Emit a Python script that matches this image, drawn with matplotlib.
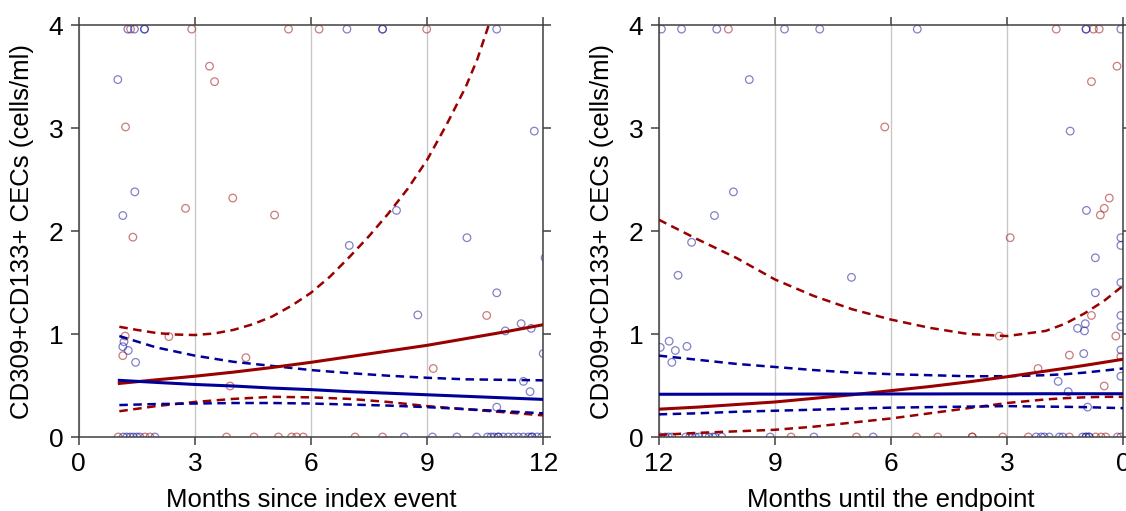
import matplotlib
matplotlib.use("Agg")
import matplotlib.pyplot as plt

plt.rcParams['font.family'] = ['Liberation Sans', 'DejaVu Sans']

# ---------------- data: left panel (months since index event) ----------------
left_red_x = [1.34, 2.92, 5.42, 6.21, 8.99,
              1.21, 3.38, 3.51, 1.40, 2.76, 3.98, 5.06, 10.54, 9.16, 1.20, 1.14, 2.33, 4.32, 3.91,
              1.02, 1.71, 1.84, 3.82, 4.53, 5.16, 5.50, 5.63, 5.80, 7.14, 7.85]
left_red_y = [3.96, 3.96, 3.96, 3.96, 3.96,
              3.01, 3.60, 3.45, 1.94, 2.22, 2.32, 2.155, 1.18, 0.665, 0.98, 0.79, 0.975, 0.77, 0.495,
              0, 0, 0, 0, 0, 0, 0, 0, 0, 0, 0]

left_blue_x = [1.27, 1.44, 1.70, 1.70, 6.93, 7.85, 7.85, 10.80,
               1.01, 1.45, 1.14, 11.77, 8.21, 6.99, 10.03, 12.05, 10.80, 8.76, 11.02, 11.43, 11.69,
               12.00, 11.49, 11.66, 10.80, 1.17, 1.14, 1.28, 1.47,
               1.15, 1.24, 1.33, 1.41, 1.50, 1.58, 1.97, 8.41, 9.14, 9.77, 10.28, 10.56, 10.65,
               10.73, 10.84, 10.84, 10.97, 11.10, 11.23, 11.36, 11.49, 11.62, 11.71, 11.71, 11.84, 11.96]
left_blue_y = [3.96, 3.96, 3.96, 3.96, 3.96, 3.96, 3.96, 3.96,
               3.47, 2.38, 2.15, 2.97, 2.20, 1.86, 1.935, 1.74, 1.40, 1.185, 1.03, 1.10, 1.055,
               0.81, 0.54, 0.44, 0.29, 0.925, 0.877, 0.84, 0.725,
               0, 0, 0, 0, 0, 0, 0, 0, 0, 0, 0, 0, 0,
               0, 0, 0, 0, 0, 0, 0, 0, 0, 0, 0, 0, 0]

fit_left_x = [1.05, 2, 3, 4, 5, 6, 7, 8, 9, 10, 11, 12]
left_red_fit = [0.52, 0.555, 0.59, 0.63, 0.675, 0.725, 0.78, 0.835, 0.89, 0.955, 1.02, 1.09]
left_red_lo = [0.25, 0.30, 0.34, 0.37, 0.39, 0.385, 0.37, 0.34, 0.30, 0.27, 0.24, 0.21]
left_blue_fit = [0.55, 0.53, 0.51, 0.495, 0.475, 0.46, 0.44, 0.425, 0.41, 0.395, 0.38, 0.365]
left_blue_up = [0.98, 0.87, 0.79, 0.73, 0.69, 0.65, 0.62, 0.595, 0.575, 0.56, 0.555, 0.55]
left_blue_lo = [0.31, 0.32, 0.325, 0.33, 0.33, 0.325, 0.315, 0.305, 0.29, 0.27, 0.25, 0.23]
left_red_up_x = [1.05, 1.5, 2, 2.5, 3, 3.5, 4, 4.5, 5, 5.5, 6, 6.5, 7, 7.5, 8, 8.5, 9, 9.5, 10, 10.3, 10.62]
left_red_up = [1.07, 1.04, 1.01, 0.995, 0.99, 1.005, 1.04, 1.095, 1.17, 1.275, 1.40, 1.56,
               1.75, 1.95, 2.17, 2.41, 2.69, 3.03, 3.40, 3.67, 4.03]

# ---------------- data: right panel (months until the endpoint) ----------------
right_red_x = [10.20, 1.73, 0.77, 0.62,
               6.16, 0.16, 0.82, 0.36, 0.49, 0.59, 2.92, 0.82, 3.20, 0.19, 0.06, 1.39, 2.20, 0.49,
               8.58, 6.89, 5.34, 4.79, 3.90, 3.90, 3.11, 2.45, 1.39, 0.71, 0.57, 0.45, 0.15]
right_red_y = [3.96, 3.96, 3.96, 3.96,
               3.01, 3.60, 3.45, 2.32, 2.22, 2.155, 1.935, 1.18, 0.98, 0.98, 0.78, 0.795, 0.665, 0.495,
               0, 0, 0, 0, 0, 0, 0, 0, 0, 0, 0, 0, 0]

right_blue_x = [11.93, 11.41, 10.50, 8.75, 7.84, 5.32, 0.96, 0.96, 0.06,
                9.66, 10.07, 10.56, 11.15, 1.37, 0.95, 0.06, 0.06, 0.72, 11.50, 11.96, 11.73, 11.57,
                11.66, 11.27, 7.02, 0.72, 0.06, 1.18, 0.98, 1.00, 1.02, 1.68, 1.42, 0.92, 0.06, 0.06,
                0.06, 0.06,
                11.96, 11.83, 11.75, 11.66, 11.30, 11.20, 11.14, 11.05, 10.96, 10.80, 10.70, 10.60,
                10.54, 10.37, 9.12, 7.99, 6.46, 2.25, 2.12, 2.04, 1.91, 1.65, 1.56, 1.05, 0.96, 0.96,
                0.88, 0.88, 0.06]
right_blue_y = [3.96, 3.96, 3.96, 3.96, 3.96, 3.96, 3.96, 3.96, 3.96,
                3.47, 2.38, 2.15, 1.89, 2.97, 2.20, 1.935, 1.86, 1.74, 1.57, 0.87, 0.93, 0.84,
                0.725, 0.88, 1.55, 1.40, 1.50, 1.055, 1.10, 1.03, 0.81, 0.54, 0.44, 0.29, 0.59, 1.18,
                1.07, 0.845,
                0, 0, 0, 0, 0, 0, 0, 0, 0, 0, 0, 0,
                0, 0, 0, 0, 0, 0, 0, 0, 0, 0, 0, 0, 0, 0,
                0, 0, 0]

fit_right_x = [12, 11, 10, 9, 8, 7, 6, 5, 4, 3, 2, 1.5, 1, 0.5, 0]
right_red_fit = [0.27, 0.29, 0.315, 0.34, 0.375, 0.41, 0.45, 0.49, 0.535, 0.585, 0.64, 0.667, 0.695, 0.725, 0.755]
right_red_up = [2.11, 1.92, 1.74, 1.53, 1.37, 1.24, 1.14, 1.06, 1.00, 0.98, 1.03, 1.10, 1.20, 1.32, 1.47]
right_red_lo = [0.02, 0.04, 0.055, 0.07, 0.10, 0.14, 0.18, 0.23, 0.28, 0.33, 0.365, 0.377, 0.385, 0.39, 0.39]
right_blue_fit = [0.415, 0.415, 0.416, 0.416, 0.417, 0.417, 0.418, 0.418, 0.419, 0.419, 0.42, 0.42, 0.42, 0.42, 0.42]
right_blue_up = [0.79, 0.75, 0.71, 0.68, 0.65, 0.625, 0.61, 0.60, 0.59, 0.59, 0.60, 0.61, 0.625, 0.645, 0.665]
right_blue_lo = [0.22, 0.23, 0.245, 0.255, 0.265, 0.275, 0.285, 0.29, 0.295, 0.30, 0.295, 0.293, 0.29, 0.285, 0.28]

x_ticks = [0, 3, 6, 9, 12]
y_ticks = [0, 1, 2, 3, 4]
ylabel = "CD309+CD133+ CECs (cells/ml)"
xlabel_left = "Months since index event"
xlabel_right = "Months until the endpoint"

# ---------------- styling ----------------
RED_LINE = '#990000'
BLUE_LINE = '#000099'
RED_PT = '#a01010'
BLUE_PT = '#1a1a99'
SPINE = '#404040'
DASH = (0, (3.4, 2.2))

W, H = 1126, 511
fig = plt.figure(figsize=(W / 100, H / 100), dpi=100)
ax1 = fig.add_axes([78.7 / W, 74 / H, 464.5 / W, 412 / H])
ax2 = fig.add_axes([658.7 / W, 74 / H, 464.5 / W, 412 / H])


def style(ax, xlabel):
    ax.set_ylim(0, 4)
    ax.set_xticks(x_ticks)
    ax.set_yticks(y_ticks)
    ax.xaxis.grid(True, color='#c8c8c8', lw=1.0, zorder=0)
    ax.set_axisbelow(True)
    for s in ax.spines.values():
        s.set_color(SPINE)
        s.set_linewidth(1.1)
    ax.tick_params(direction='out', length=6, width=1.1, color=SPINE,
                   top=True, right=True, labeltop=False, labelright=False,
                   labelsize=19, labelcolor='black', pad=5)
    ax.set_ylabel(ylabel, fontsize=18.5)
    ax.set_xlabel(xlabel, fontsize=18.5)
    ax.yaxis.set_label_coords(-0.097, 0.5)
    ax.xaxis.set_label_coords(0.5, -0.123)


def points(ax, xs, ys, color):
    ax.scatter(xs, ys, s=30, facecolors='none', edgecolors=color, linewidths=0.9,
               alpha=0.55, zorder=2, clip_on=True)


# left panel
ax1.set_xlim(0, 12)
style(ax1, xlabel_left)
points(ax1, left_red_x, left_red_y, RED_PT)
points(ax1, left_blue_x, left_blue_y, BLUE_PT)
ax1.plot(left_red_up_x, left_red_up, color=RED_LINE, lw=1.8, ls=DASH, zorder=3)
ax1.plot(fit_left_x, left_red_lo, color=RED_LINE, lw=1.8, ls=DASH, zorder=3)
ax1.plot(fit_left_x, left_blue_up, color=BLUE_LINE, lw=1.8, ls=DASH, zorder=3)
ax1.plot(fit_left_x, left_blue_lo, color=BLUE_LINE, lw=1.8, ls=DASH, zorder=3)
ax1.plot(fit_left_x, left_red_fit, color=RED_LINE, lw=2.2, zorder=4)
ax1.plot(fit_left_x, left_blue_fit, color=BLUE_LINE, lw=2.2, zorder=4)

# right panel
ax2.set_xlim(12, 0)
style(ax2, xlabel_right)
points(ax2, right_red_x, right_red_y, RED_PT)
points(ax2, right_blue_x, right_blue_y, BLUE_PT)
ax2.plot(fit_right_x, right_red_up, color=RED_LINE, lw=1.8, ls=DASH, zorder=3)
ax2.plot(fit_right_x, right_red_lo, color=RED_LINE, lw=1.8, ls=DASH, zorder=3)
ax2.plot(fit_right_x, right_blue_up, color=BLUE_LINE, lw=1.8, ls=DASH, zorder=3)
ax2.plot(fit_right_x, right_blue_lo, color=BLUE_LINE, lw=1.8, ls=DASH, zorder=3)
ax2.plot(fit_right_x, right_red_fit, color=RED_LINE, lw=2.2, zorder=4)
ax2.plot(fit_right_x, right_blue_fit, color=BLUE_LINE, lw=2.2, zorder=4)

fig.savefig("out.png", dpi=100)
